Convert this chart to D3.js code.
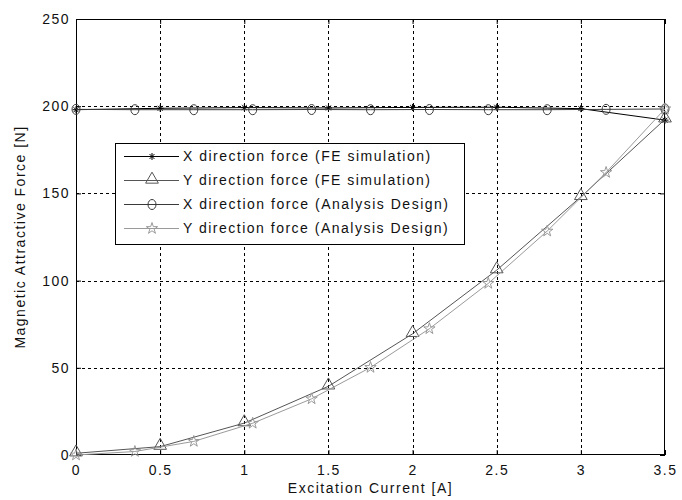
<!DOCTYPE html>
<html>
<head>
<meta charset="utf-8">
<script src="https://cdn.jsdelivr.net/npm/d3@7"></script>
<style>
  html, body { margin: 0; padding: 0; background: #fff; }
  svg text { font-family: "Liberation Sans", Arial, sans-serif; font-size: 14px; fill: #111; letter-spacing: 1.5px; }
</style>
</head>
<body>
<svg id="chart" width="682" height="500"></svg>
<script>
// Excitation current sample points
const currentFE = [0, 0.5, 1, 1.5, 2, 2.5, 3, 3.5];
const currentAnalysis = [0, 0.35, 0.7, 1.05, 1.4, 1.75, 2.1, 2.45, 2.8, 3.15, 3.5];

// Attractive force [N]
const xForceFE = [198, 198.8, 199.2, 199, 199.3, 199.4, 198.6, 192];
const yForceFE = [1, 4.8, 18.3, 39.4, 69.5, 106, 148, 192.5];
const xForceAnalysis = [198.2, 198, 198, 198, 198.1, 198, 198.1, 198, 198, 198.2, 198.4];
const yForceAnalysis = [0, 2, 7.8, 18.2, 32.2, 50.2, 72.4, 98.4, 128.4, 162, 198.5];

const xTicks = [0, 0.5, 1, 1.5, 2, 2.5, 3, 3.5];
const yTicks = [0, 50, 100, 150, 200, 250];

const seriesNames = [
  "X direction force (FE simulation)",
  "Y direction force (FE simulation)",
  "X direction force (Analysis Design)",
  "Y direction force (Analysis Design)"
];

const svg = d3.select("#chart");
const plotL = 76, plotR = 665, plotT = 19, plotB = 455;

const x = d3.scaleLinear().domain([0, 3.5]).range([plotL, plotR]);
const y = d3.scaleLinear().domain([0, 250]).range([plotB, plotT]);

// dotted grid
const grid = svg.append("g").attr("stroke", "#000").attr("stroke-width", 1)
  .attr("stroke-dasharray", "3,3").attr("shape-rendering", "crispEdges");
grid.selectAll(".gx").data(xTicks.slice(1, -1)).join("line")
  .attr("x1", d => Math.round(x(d)) + 0.5).attr("x2", d => Math.round(x(d)) + 0.5)
  .attr("y1", plotT).attr("y2", plotB);
grid.selectAll(".gy").data(yTicks.slice(1, -1)).join("line")
  .attr("y1", d => Math.round(y(d)) + 0.5).attr("y2", d => Math.round(y(d)) + 0.5)
  .attr("x1", plotL).attr("x2", plotR);

// axes with inward ticks
const xAxis = svg.append("g").attr("transform", `translate(0,${plotB})`)
  .call(d3.axisBottom(x).tickValues(xTicks).tickFormat(d3.format("")).tickSizeInner(-5).tickSizeOuter(0).tickPadding(10));
const yAxis = svg.append("g").attr("transform", `translate(${plotL},0)`)
  .call(d3.axisLeft(y).tickValues(yTicks).tickFormat(d3.format("")).tickSizeInner(-5).tickSizeOuter(0).tickPadding(6));
svg.append("g").attr("transform", `translate(0,${plotT})`)
  .call(d3.axisTop(x).tickValues(xTicks).tickFormat("").tickSizeInner(-5).tickSizeOuter(0));
svg.append("g").attr("transform", `translate(${plotR},0)`)
  .call(d3.axisRight(y).tickValues(yTicks).tickFormat("").tickSizeInner(-5).tickSizeOuter(0));
svg.selectAll(".domain").remove();
svg.selectAll(".tick line").attr("stroke", "#000");
xAxis.selectAll("text").attr("fill", "#111").style("font-size", "14px");
yAxis.selectAll("text").attr("fill", "#111").style("font-size", "14px");

svg.append("rect").attr("x", plotL + 0.5).attr("y", plotT + 0.5)
  .attr("width", plotR - plotL - 1).attr("height", plotB - plotT - 1)
  .attr("fill", "none").attr("stroke", "#000").attr("stroke-width", 1);

// axis titles
svg.append("text").attr("x", (plotL + plotR) / 2).attr("y", 493)
  .attr("text-anchor", "middle").text("Excitation Current [A]");
svg.append("text").attr("transform", `translate(25,${(plotT + plotB) / 2}) rotate(-90)`)
  .attr("text-anchor", "middle").text("Magnetic Attractive Force [N]");

// marker shapes
const starPath = d3.symbol().type(d3.symbolStar).size(40)();
const triPath = d3.symbol().type(d3.symbolTriangle).size(70)();
function drawMarker(g, kind, color) {
  if (kind === "asterisk") {
    const r = 3.5;
    g.append("path").attr("d",
      `M${-r},0H${r}M0,${-r}V${r}M${-r * 0.7},${-r * 0.7}L${r * 0.7},${r * 0.7}M${-r * 0.7},${r * 0.7}L${r * 0.7},${-r * 0.7}`)
      .attr("stroke", color).attr("stroke-width", 1).attr("fill", "none");
  } else if (kind === "triangle") {
    g.append("path").attr("d", triPath).attr("transform", "translate(0,-1)")
      .attr("stroke", color).attr("fill", "none").attr("stroke-width", 1);
  } else if (kind === "circle") {
    g.append("ellipse").attr("rx", 4).attr("ry", 5)
      .attr("stroke", color).attr("fill", "none").attr("stroke-width", 1);
  } else if (kind === "star") {
    g.append("path").attr("d", starPath)
      .attr("stroke", color).attr("fill", "none").attr("stroke-width", 1);
  }
}

const series = [
  { name: seriesNames[0], xs: currentFE, ys: xForceFE, color: "#000", marker: "asterisk" },
  { name: seriesNames[1], xs: currentFE, ys: yForceFE, color: "#555", marker: "triangle" },
  { name: seriesNames[2], xs: currentAnalysis, ys: xForceAnalysis, color: "#3a3a3a", marker: "circle" },
  { name: seriesNames[3], xs: currentAnalysis, ys: yForceAnalysis, color: "#9a9a9a", marker: "star" }
];

const line = d3.line().x(d => x(d[0])).y(d => y(d[1]));
series.forEach(s => {
  const pts = s.xs.map((v, i) => [v, s.ys[i]]);
  const g = svg.append("g");
  g.append("path").attr("d", line(pts)).attr("fill", "none")
    .attr("stroke", s.color).attr("stroke-width", 1);
  pts.forEach(p => {
    const m = g.append("g").attr("transform", `translate(${x(p[0])},${y(p[1])})`);
    drawMarker(m, s.marker, s.color);
  });
});

// legend
const lg = svg.append("g");
const lgX = 115, lgY = 143, lgW = 349, lgH = 101;
lg.append("rect").attr("x", lgX + 0.5).attr("y", lgY + 0.5).attr("width", lgW).attr("height", lgH)
  .attr("fill", "#fff").attr("stroke", "#000").attr("stroke-width", 1);
series.forEach((s, i) => {
  const cy = lgY + 13 + i * 24;
  lg.append("line").attr("x1", lgX + 9).attr("x2", lgX + 64).attr("y1", cy + 0.5).attr("y2", cy + 0.5)
    .attr("stroke", s.color).attr("stroke-width", 1);
  const m = lg.append("g").attr("transform", `translate(${lgX + 37},${cy + 0.5})`);
  drawMarker(m, s.marker, s.color);
  lg.append("text").attr("x", lgX + 68).attr("y", cy + 5).text(s.name);
});
</script>
</body>
</html>
